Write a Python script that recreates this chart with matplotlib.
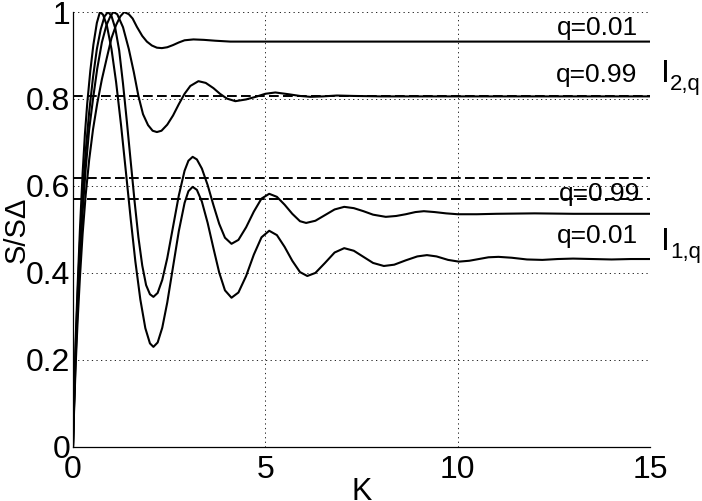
import numpy as np
import matplotlib
matplotlib.use('Agg')
import matplotlib.pyplot as plt

plt.rcParams['font.family'] = 'Liberation Sans'

# I_1,q, q=0.01
k_i1_001 = [0, 0.03, 0.07, 0.12, 0.18, 0.25, 0.31, 0.37, 0.45, 0.53, 0.62, 0.70,
            0.78, 0.88, 1.0, 1.12, 1.25, 1.38, 1.5, 1.62, 1.75, 1.88, 2.0, 2.09,
            2.2, 2.32, 2.45, 2.6, 2.75, 2.9, 3.0, 3.11, 3.22, 3.35, 3.5, 3.65, 3.8,
            3.95, 4.12, 4.3, 4.5, 4.7, 4.9, 5.1, 5.3, 5.5, 5.7, 5.9, 6.09, 6.3,
            6.55, 6.8, 7.05, 7.3, 7.55, 7.8, 8.08, 8.35, 8.65, 8.95, 9.2, 9.45,
            9.75, 10.03, 10.3, 10.55, 10.8, 11.06, 11.4, 11.8, 12.2, 12.6, 13.0,
            13.5, 14.0, 14.5, 15.0]
s_i1_001 = [0, 0.12, 0.25, 0.37, 0.5, 0.63, 0.72, 0.79, 0.865, 0.925, 0.975, 1.0,
            0.994, 0.969, 0.915, 0.839, 0.739, 0.628, 0.524, 0.427, 0.339, 0.273,
            0.238, 0.23, 0.24, 0.274, 0.332, 0.414, 0.496, 0.561, 0.588, 0.598,
            0.591, 0.564, 0.515, 0.457, 0.401, 0.36, 0.343, 0.355, 0.393, 0.442,
            0.482, 0.497, 0.487, 0.46, 0.428, 0.402, 0.393, 0.4, 0.423, 0.447,
            0.457, 0.451, 0.437, 0.423, 0.416, 0.419, 0.429, 0.438, 0.441, 0.438,
            0.43, 0.426, 0.428, 0.432, 0.436, 0.437, 0.435, 0.431, 0.43, 0.432,
            0.433, 0.432, 0.431, 0.432, 0.432]

# I_1,q, q=0.99
k_i1_099 = [0, 0.03, 0.07, 0.12, 0.18, 0.25, 0.33, 0.42, 0.52, 0.62, 0.72, 0.82,
            0.91, 1.0, 1.1, 1.2, 1.3, 1.4, 1.5, 1.6, 1.7, 1.8, 1.9, 2.0, 2.09, 2.2,
            2.32, 2.45, 2.6, 2.75, 2.9, 3.0, 3.11, 3.22, 3.35, 3.5, 3.65, 3.8, 3.95,
            4.12, 4.3, 4.5, 4.7, 4.9, 5.1, 5.3, 5.5, 5.7, 5.9, 6.06, 6.3, 6.55, 6.8,
            7.05, 7.3, 7.55, 7.8, 8.13, 8.4, 8.65, 8.9, 9.12, 9.4, 9.7, 10.0, 10.5,
            11.0, 12.0, 13.0, 14.0, 15.0]
s_i1_099 = [0, 0.11, 0.23, 0.35, 0.47, 0.58, 0.68, 0.77, 0.85, 0.915, 0.96, 0.99,
            1.0, 0.991, 0.962, 0.912, 0.835, 0.748, 0.656, 0.565, 0.482, 0.417,
            0.372, 0.351, 0.345, 0.354, 0.384, 0.434, 0.506, 0.578, 0.635, 0.658,
            0.667, 0.661, 0.640, 0.602, 0.556, 0.513, 0.481, 0.467, 0.476, 0.505,
            0.541, 0.571, 0.582, 0.575, 0.557, 0.536, 0.519, 0.515, 0.520, 0.533,
            0.546, 0.552, 0.549, 0.542, 0.534, 0.529, 0.531, 0.535, 0.540, 0.542,
            0.540, 0.537, 0.535, 0.535, 0.536, 0.537, 0.536, 0.536, 0.536]

# I_2,q, q=0.99
k_i2_099 = [0, 0.03, 0.07, 0.12, 0.18, 0.25, 0.33, 0.42, 0.52, 0.63, 0.75, 0.87,
            0.97, 1.05, 1.15, 1.3, 1.45, 1.58, 1.7, 1.82, 1.95, 2.07, 2.18, 2.3,
            2.45, 2.6, 2.75, 2.9, 3.05, 3.26, 3.45, 3.65, 3.82, 4.0, 4.22, 4.5,
            4.75, 5.0, 5.26, 5.6, 5.9, 6.17, 6.5, 6.86, 7.3, 8.0, 9.0, 15.0]
s_i2_099 = [0, 0.10, 0.21, 0.32, 0.43, 0.54, 0.64, 0.73, 0.80, 0.87, 0.93, 0.97,
            0.99, 1.0, 0.995, 0.965, 0.915, 0.862, 0.807, 0.765, 0.740, 0.727,
            0.724, 0.727, 0.741, 0.762, 0.788, 0.812, 0.830, 0.841, 0.837, 0.825,
            0.812, 0.801, 0.795, 0.799, 0.805, 0.812, 0.815, 0.811, 0.807, 0.805,
            0.806, 0.808, 0.807, 0.806, 0.806, 0.806]

# I_2,q, q=0.01
k_i2_001 = [0, 0.03, 0.07, 0.12, 0.18, 0.25, 0.33, 0.42, 0.52, 0.63, 0.75, 0.88,
            1.0, 1.12, 1.23, 1.33, 1.45, 1.55, 1.66, 1.8, 1.92, 2.05, 2.18, 2.31,
            2.45, 2.6, 2.75, 2.9, 3.13, 3.4, 3.7, 4.09, 15.0]
s_i2_001 = [0, 0.09, 0.19, 0.29, 0.39, 0.49, 0.58, 0.66, 0.73, 0.79, 0.845, 0.895,
            0.94, 0.97, 0.99, 1.0, 0.995, 0.985, 0.966, 0.945, 0.932, 0.923, 0.918,
            0.917, 0.919, 0.924, 0.93, 0.935, 0.937, 0.936, 0.934, 0.932, 0.932]

# dashed reference levels
ref_levels = [0.807, 0.619, 0.569]

x_ticks = [0, 5, 10, 15]
y_ticks = [0, 0.2, 0.4, 0.6, 0.8, 1]
y_ticklabels = ['0', '0.2', '0.4', '0.6', '0.8', '1']

fig = plt.figure(figsize=(7.02, 5.01), dpi=100)
ax = fig.add_axes([0.104, 0.108, 0.822, 0.868])

for lev in ref_levels:
    ax.axhline(lev, color='black', lw=1.4, ls=(0, (5, 2.2)), zorder=2)

for k, s in [(k_i1_001, s_i1_001), (k_i1_099, s_i1_099),
             (k_i2_099, s_i2_099), (k_i2_001, s_i2_001)]:
    ax.plot(k, s, color='black', lw=1.5, zorder=3)

ax.set_xlim(0, 15)
ax.set_ylim(0, 1)
ax.set_xticks(x_ticks)
ax.set_yticks(y_ticks)
ax.set_yticklabels(y_ticklabels)
ax.tick_params(length=0, labelsize=23)
ax.tick_params(axis='x', pad=6)
ax.tick_params(axis='y', pad=2)
ax.grid(True, color='black', lw=0.6, ls=(0, (1.5, 4)))
for side in ['top', 'right']:
    ax.spines[side].set_visible(False)
for side in ['left', 'bottom']:
    ax.spines[side].set_linewidth(0.9)

ax.set_xlabel('K', fontsize=22, labelpad=-6)
ax.set_ylabel('S/S\u0394', fontsize=21)
ax.yaxis.set_label_coords(-0.074, 0.5)

# curve annotations
ax.text(14.68, 0.947, 'q=0.01', fontsize=19, ha='right', va='baseline')
ax.text(14.68, 0.839, 'q=0.99', fontsize=19, ha='right', va='baseline')
ax.text(14.75, 0.566, 'q=0.99', fontsize=19, ha='right', va='baseline')
ax.text(14.68, 0.469, 'q=0.01', fontsize=19, ha='right', va='baseline')

# group labels I_{2,q} and I_{1,q}
for name, sub, yv in [('I', '2,q', 0.839), ('I', '1,q', 0.453)]:
    ax.text(15.28, yv, name, fontsize=23, ha='left', va='baseline', clip_on=False)
    ax.annotate(sub, xy=(15.28, yv), xytext=(6.5, -5.5), textcoords='offset points',
                fontsize=16, ha='left', va='baseline', annotation_clip=False)

fig.savefig('out.png', dpi=100)
